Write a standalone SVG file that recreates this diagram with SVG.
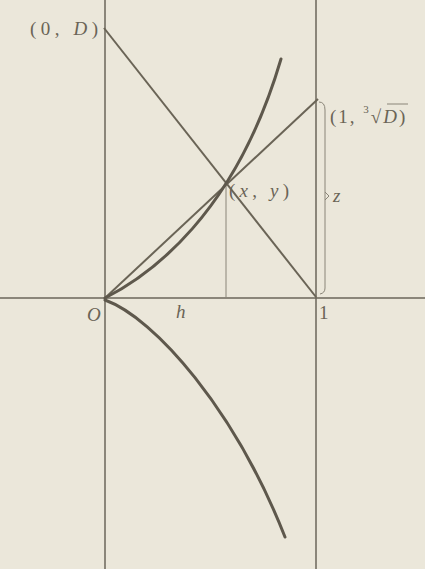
<svg xmlns="http://www.w3.org/2000/svg" width="425" height="569" viewBox="0 0 425 569">
<defs>
<style>
.ax{stroke:#6b665a;stroke-width:1.5;fill:none}
.thin{stroke:#8a8578;stroke-width:1;fill:none}
.ln{stroke:#6a6456;stroke-width:2;fill:none}
.cv{stroke:#5e584c;stroke-width:3;fill:none;stroke-linecap:round}
.t{font-family:"Liberation Serif",serif;font-size:19px;fill:#6a6456}
.it{font-style:italic}
</style>
</defs>
<rect width="425" height="569" fill="#ebe7da"/>
<g id="axes">
<line class="ax" x1="105" y1="0" x2="105" y2="569"/>
<line class="ax" x1="0" y1="298" x2="425" y2="298"/>
<line class="ax" x1="316" y1="0" x2="316" y2="569"/>
</g>
<g id="connectors">
<line class="ln" x1="104" y1="28" x2="316" y2="297"/>
<line class="ln" x1="105" y1="298" x2="318" y2="99"/>
<line class="thin" x1="226" y1="184" x2="226" y2="298"/>
<path class="thin" d="M319,102 Q325,102 325,110 L325,288 Q325,293 320,294"/>
<path class="thin" d="M325,192 L329,196 L325,200"/>
</g>
<g id="curve-upper"><path class="cv" d="M105,298 C150,275 235,215 281,59"/></g>
<g id="curve-lower"><path class="cv" d="M105,300 C155,318 235,410 285,537"/></g>
<g id="label-0D"><text class="t" x="30" y="35" textLength="68" lengthAdjust="spacing">(0, <tspan class="it">D</tspan>)</text></g>
<g id="label-1D"><text class="t" x="330" y="123" font-size="22" letter-spacing="2">(1, <tspan font-size="11" dy="-10">3</tspan><tspan dy="10">√</tspan><tspan class="it">D</tspan>)</text>
<line class="thin" x1="387" y1="104" x2="408" y2="104"/></g>
<g id="label-xy"><text class="t" x="229" y="197" textLength="60" lengthAdjust="spacing">(<tspan class="it">x</tspan>, <tspan class="it">y</tspan>)</text></g>
<g id="label-z"><text class="t it" x="333" y="202">z</text></g>
<g id="label-O"><text class="t it" x="87" y="321">O</text></g>
<g id="label-h"><text class="t it" x="176" y="318" fill="#a6a193" font-size="14">h</text></g>
<g id="label-1"><text class="t" x="319" y="319">1</text></g>
</svg>
